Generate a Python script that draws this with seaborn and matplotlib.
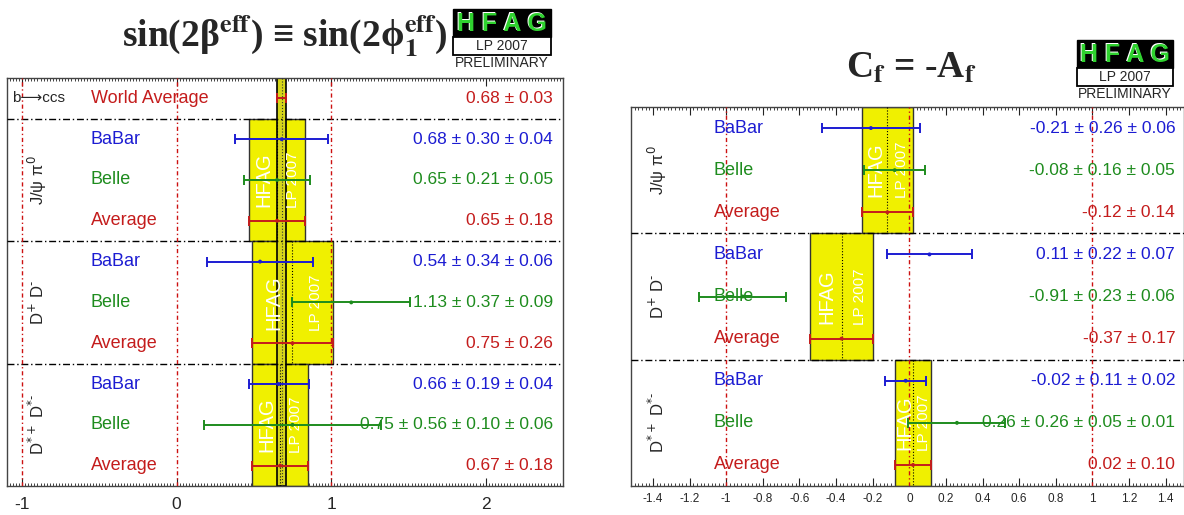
import numpy as np
import pandas as pd
import matplotlib
matplotlib.use('Agg')
import matplotlib.pyplot as plt
import matplotlib.transforms as mtransforms
from matplotlib.patches import Rectangle
from matplotlib.ticker import MultipleLocator, FuncFormatter
import seaborn as sns

# decay modes and experiments
modes = ['J/ψ π$^{0}$', 'D$^{+}$ D$^{\\text{-}}$', 'D$^{*+}$ D$^{*\\text{-}}$']
experiments = ['BaBar', 'Belle', 'Average']

# sin(2beta_eff) values with error components (stat, syst, ...)
s2b_values = [0.68, 0.65, 0.65, 0.54, 1.13, 0.75, 0.66, 0.75, 0.67]
s2b_errors = [[0.30, 0.04], [0.21, 0.05], [0.18],
              [0.34, 0.06], [0.37, 0.09], [0.26],
              [0.19, 0.04], [0.56, 0.10, 0.06], [0.18]]
world_avg = 0.68
world_err = 0.03

# C_f = -A_f values
cf_values = [-0.21, -0.08, -0.12, 0.11, -0.91, -0.37, -0.02, 0.26, 0.02]
cf_errors = [[0.26, 0.06], [0.16, 0.05], [0.14],
             [0.22, 0.07], [0.23, 0.06], [0.17],
             [0.11, 0.02], [0.26, 0.05, 0.01], [0.10]]

s2b_ticks = [-1, 0, 1, 2]
cf_ticks = [-1.4, -1.2, -1, -0.8, -0.6, -0.4, -0.2, 0, 0.2, 0.4, 0.6, 0.8, 1, 1.2, 1.4]
ref_lines = [-1, 0, 1]

colors = {'BaBar': '#1c1cd2', 'Belle': '#1e8c1e', 'Average': '#c41c1c'}
yellow = '#f0f000'

sns.set_style('white')
plt.rcParams['font.family'] = ['Liberation Sans', 'DejaVu Sans']
plt.rcParams['axes.unicode_minus'] = False

W, H = 1184, 515
fig = plt.figure(figsize=(W / 100, H / 100), dpi=100)


def fx(x):
    return x / W


def fy(y):
    return 1 - y / H


def make_frame(values, errors, row0):
    rows = []
    for i, (v, e) in enumerate(zip(values, errors)):
        g, k = divmod(i, 3)
        rows.append(dict(group=g, experiment=experiments[k], value=v,
                         total=float(np.sqrt(np.sum(np.square(e)))),
                         text=' ± '.join(f'{x:.2f}' for x in [v] + e),
                         row=row0 + i + 0.5))
    return pd.DataFrame(rows)


def draw_panel(ax, df, row0, xlim, xmode, xlab, xval):
    nrows = row0 + 9
    trans = mtransforms.blended_transform_factory(ax.transAxes, ax.transData)
    for g, mode in enumerate(modes):
        avg = df[(df.group == g) & (df.experiment == 'Average')].iloc[0]
        lo, hi = avg.value - avg.total, avg.value + avg.total
        y0 = row0 + 3 * g
        ax.add_patch(Rectangle((lo, y0), hi - lo, 3, fc=yellow, ec='#333333',
                               lw=1, zorder=1))
        ax.plot([avg.value, avg.value], [y0, y0 + 3], color='black', ls=':',
                lw=0.8, zorder=3)
        ax.text(lo + 0.27 * (hi - lo), y0 + 1.5, 'HFAG', rotation=90,
                color='white', fontsize=14.5, ha='center', va='center', zorder=4)
        ax.text(lo + 0.79 * (hi - lo), y0 + 1.5, 'LP 2007', rotation=90,
                color='white', fontsize=11, ha='center', va='center', zorder=4)
        if y0 > 0:
            ax.axhline(y0, color='black', lw=1, ls=(0, (5, 2, 1, 2)), zorder=3)
        ax.text(xmode, y0 + 1.5, mode, rotation=90, transform=trans,
                fontsize=12, ha='center', va='center', zorder=5)
    for x in ref_lines:
        ax.axvline(x, color='#cc1010', lw=1, ls=(0, (3, 2, 1, 2)), zorder=3)
    for r in df.itertuples():
        c = colors[r.experiment]
        ax.text(xlab, r.row, r.experiment, color=c, transform=trans,
                fontsize=13, ha='left', va='center', zorder=5)
        ax.text(xval, r.row, r.text, color=c, transform=trans,
                fontsize=12.5, ha='right', va='center', zorder=5)
    for exp in experiments:
        d = df[df.experiment == exp]
        ax.errorbar(d.value, d.row, xerr=d.total, fmt='none', ecolor=colors[exp],
                    elinewidth=1.4, capsize=3.5, capthick=1.4, zorder=6)
    sns.scatterplot(data=df, x='value', y='row', hue='experiment', palette=colors,
                    s=8, edgecolor='none', legend=False, ax=ax, zorder=7)
    ax.set_xlim(xlim)
    ax.set_ylim(nrows, 0)
    ax.set_xlabel('')
    ax.set_ylabel('')
    ax.set_yticks([])
    ax.xaxis.set_minor_locator(MultipleLocator(0.02))
    ax.xaxis.set_major_formatter(FuncFormatter(lambda v, p: f'{v:g}'))
    ax.tick_params(axis='x', which='both', direction='in', top=True, bottom=True,
                   color='#222222')
    ax.tick_params(axis='x', which='major', length=6)
    ax.tick_params(axis='x', which='minor', length=2.5, width=0.6)
    for s in ax.spines.values():
        s.set_color('#444444')
        s.set_linewidth(1)


# left panel: sin(2beta_eff)
ax1 = fig.add_axes([fx(7), fy(486), fx(556), 408 / H])
df1 = make_frame(s2b_values, s2b_errors, 1)
ax1.add_patch(Rectangle((world_avg - world_err, 0), 2 * world_err, 10,
                        fc='#d6d61a', ec='black', lw=1.2, zorder=2))
ax1.plot([world_avg, world_avg], [0, 10], color='#333333', ls=':', lw=0.8, zorder=3)
draw_panel(ax1, df1, 1, (-1.097, 2.5), 0.054, 0.151, 0.982)
trans1 = mtransforms.blended_transform_factory(ax1.transAxes, ax1.transData)
ax1.text(0.009, 0.5, 'b⟶ccs', transform=trans1, fontsize=11, va='center', zorder=5)
ax1.text(0.151, 0.5, 'World Average', color=colors['Average'], transform=trans1,
         fontsize=13, va='center', zorder=5)
ax1.text(0.982, 0.5, f'{world_avg:.2f} ± {world_err:.2f}', color=colors['Average'],
         transform=trans1, fontsize=12.5, ha='right', va='center', zorder=5)
ax1.errorbar([world_avg], [0.5], xerr=[world_err], fmt='none', ecolor=colors['Average'],
             elinewidth=1.4, capsize=3.5, capthick=1.4, zorder=6)
ax1.set_xticks(s2b_ticks)
ax1.tick_params(axis='x', which='major', labelsize=12.5, pad=8)

# right panel: C_f = -A_f
ax2 = fig.add_axes([fx(631), fy(486), fx(553), 379 / H])
df2 = make_frame(cf_values, cf_errors, 0)
draw_panel(ax2, df2, 0, (-1.52, 1.5), 0.047, 0.150, 0.984)
ax2.set_xticks(cf_ticks)
ax2.tick_params(axis='x', which='major', labelsize=8.5, pad=5)

# titles
serif = ['Liberation Serif', 'DejaVu Serif']
fig.text(fx(285), fy(36), 'sin(2β$^{\\mathbf{eff}}$) ≡ sin(2ϕ$_{\\mathbf{1}}^{\\mathbf{eff}}$)',
         family=serif, weight='bold', fontsize=27, ha='center', va='center',
         math_fontfamily='stix')
fig.text(fx(911), fy(68), 'C$_{\\mathbf{f}}$ = -A$_{\\mathbf{f}}$',
         family=serif, weight='bold', fontsize=27, ha='center', va='center',
         math_fontfamily='stix')


def logo(x0, x1, y0):
    w = fx(x1) - fx(x0)
    fig.add_artist(Rectangle((fx(x0), fy(y0 + 28)), w, 28 / H, transform=fig.transFigure,
                             fc='black', ec='black', lw=1))
    fig.add_artist(Rectangle((fx(x0), fy(y0 + 46)), w, 18 / H, transform=fig.transFigure,
                             fc='white', ec='black', lw=1.3))
    xc = (x0 + x1) / 2
    fig.text(fx(xc - 1.5), fy(y0 + 14), 'H F A G', color='white', fontsize=18,
             weight='bold', ha='center', va='center')
    fig.text(fx(xc), fy(y0 + 15), 'H F A G', color='#2fd22f', fontsize=18,
             weight='bold', ha='center', va='center')
    fig.text(fx(xc), fy(y0 + 37), 'LP 2007', fontsize=10, ha='center', va='center')
    fig.text(fx(xc), fy(y0 + 54), 'PRELIMINARY', fontsize=10, ha='center', va='center')


logo(453, 551, 9)
logo(1077, 1173, 40)

fig.savefig('out.png', dpi=100)
